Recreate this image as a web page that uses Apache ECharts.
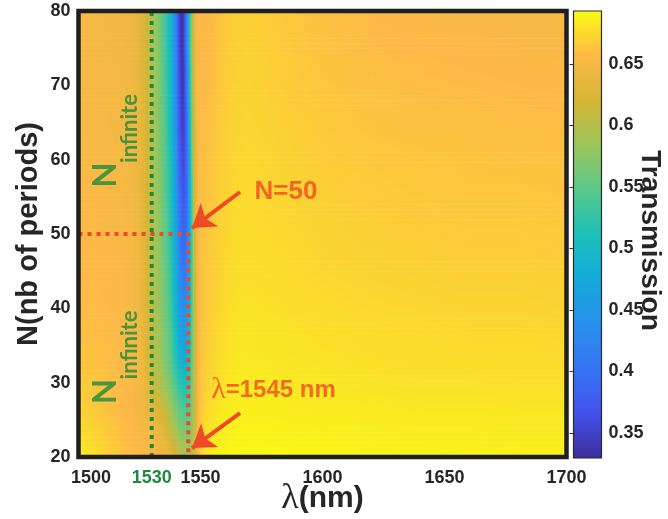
<!DOCTYPE html>
<html><head><meta charset="utf-8">
<script src="https://cdn.jsdelivr.net/npm/echarts@6/dist/echarts.min.js"></script>
<style>html,body{margin:0;padding:0;background:#fff}#c{width:668px;height:519px}</style>
</head><body><div id="c"></div>
<script>
// node positions: wavelength (nm) and number of periods (top to bottom)
const wavelengthNm = [1500,1506,1512,1518,1522,1525,1527,1529,1531,1533,1535,1536,1537,1538,1539,1540,1541,1542,1543,1544,1545,1546,1547,1548,1549,1550,1552,1555,1558,1562,1568,1575,1585,1600,1620,1640,1660,1680,1700];
const periodsN = [80,76,72,68,64,60,56,52,48,44,40,36,33,30,28,26,24,22,20];

// transmission read row by row
const tN80 = [.649,.649,.648,.647,.643,.635,.624,.607,.587,.565,.540,.525,.505,.480,.450,.410,.360,.333,.345,.400,.480,.560,.620,.648,.655,.655,.655,.658,.663,.667,.669,.668,.665,.661,.657,.655,.654,.653,.652];
const tN76 = [.649,.649,.648,.647,.643,.635,.624,.607,.587,.565,.541,.526,.506,.481,.451,.412,.362,.335,.347,.402,.482,.562,.622,.649,.656,.656,.656,.659,.664,.668,.670,.669,.666,.662,.658,.656,.655,.654,.653];
const tN72 = [.650,.650,.649,.648,.644,.636,.625,.608,.588,.566,.543,.528,.509,.485,.456,.418,.368,.340,.342,.390,.470,.550,.615,.647,.656,.657,.657,.660,.665,.669,.671,.670,.667,.663,.660,.658,.657,.656,.655];
const tN68 = [.651,.651,.650,.649,.645,.637,.626,.609,.589,.567,.545,.530,.512,.489,.461,.424,.375,.346,.345,.385,.460,.545,.610,.645,.656,.658,.658,.661,.666,.670,.672,.671,.668,.665,.662,.660,.659,.658,.657];
const tN64 = [.652,.652,.651,.650,.646,.638,.627,.610,.590,.568,.547,.533,.515,.493,.466,.430,.384,.354,.350,.380,.450,.535,.605,.643,.656,.659,.659,.662,.667,.671,.673,.672,.670,.666,.663,.662,.661,.660,.659];
const tN60 = [.653,.653,.652,.651,.647,.639,.628,.611,.591,.570,.550,.537,.520,.498,.472,.438,.395,.364,.357,.378,.440,.525,.600,.640,.656,.660,.661,.664,.668,.672,.674,.673,.671,.668,.665,.664,.663,.662,.661];
const tN56 = [.654,.654,.653,.652,.648,.640,.629,.612,.592,.572,.553,.540,.524,.503,.478,.446,.406,.376,.367,.380,.435,.515,.595,.637,.655,.660,.662,.665,.669,.673,.675,.674,.672,.669,.667,.665,.664,.664,.663];
const tN52 = [.655,.655,.654,.653,.649,.641,.630,.613,.593,.573,.555,.543,.528,.508,.485,.455,.418,.390,.380,.388,.435,.510,.590,.635,.654,.660,.663,.666,.670,.674,.676,.675,.673,.671,.668,.667,.666,.666,.665];
const tN48 = [.656,.656,.655,.654,.650,.642,.631,.614,.594,.575,.558,.546,.532,.513,.492,.464,.430,.404,.395,.400,.440,.510,.585,.632,.653,.660,.664,.667,.671,.675,.677,.676,.675,.672,.670,.669,.668,.668,.667];
const tN44 = [.657,.657,.656,.655,.651,.643,.632,.615,.596,.577,.561,.550,.537,.520,.500,.475,.445,.422,.415,.418,.450,.515,.585,.630,.652,.660,.665,.668,.672,.676,.678,.677,.676,.674,.672,.671,.670,.670,.669];
const tN40 = [.658,.658,.657,.655,.651,.643,.632,.616,.598,.580,.565,.555,.543,.527,.509,.487,.462,.443,.437,.440,.465,.520,.585,.628,.651,.660,.666,.670,.674,.678,.680,.679,.678,.676,.674,.673,.672,.672,.671];
const tN36 = [.661,.660,.658,.656,.652,.645,.634,.618,.600,.583,.569,.560,.549,.535,.519,.500,.479,.466,.461,.462,.480,.525,.585,.627,.650,.660,.667,.672,.676,.680,.682,.681,.680,.678,.677,.676,.675,.675,.674];
const tN33 = [.664,.662,.660,.657,.653,.646,.635,.620,.603,.586,.573,.565,.555,.543,.529,.513,.497,.487,.483,.484,.497,.533,.588,.627,.650,.661,.668,.673,.677,.681,.683,.682,.681,.680,.678,.677,.677,.676,.676];
const tN30 = [.667,.664,.661,.657,.653,.647,.639,.627,.613,.598,.584,.576,.567,.556,.545,.534,.524,.516,.511,.510,.518,.548,.593,.628,.651,.663,.670,.675,.679,.683,.685,.685,.683,.682,.680,.679,.679,.678,.678];
const tN28 = [.668,.664,.660,.656,.651,.646,.640,.632,.622,.610,.597,.590,.581,.571,.560,.550,.541,.533,.528,.527,.532,.555,.594,.629,.652,.664,.672,.677,.681,.684,.686,.686,.685,.683,.682,.681,.681,.680,.680];
const tN26 = [.671,.667,.662,.657,.652,.648,.645,.640,.634,.625,.613,.606,.597,.587,.577,.567,.558,.551,.546,.543,.545,.560,.595,.630,.653,.666,.674,.679,.683,.686,.687,.687,.686,.685,.684,.683,.683,.682,.682];
const tN24 = [.675,.671,.665,.659,.655,.652,.650,.647,.643,.636,.626,.619,.610,.600,.590,.580,.572,.566,.562,.560,.562,.572,.598,.630,.655,.668,.676,.681,.685,.688,.689,.689,.688,.687,.686,.685,.685,.684,.684];
const tN22 = [.680,.675,.668,.661,.656,.653,.652,.650,.647,.643,.637,.632,.626,.618,.610,.602,.594,.588,.583,.579,.578,.583,.602,.632,.656,.670,.678,.683,.687,.689,.690,.690,.689,.688,.688,.687,.687,.686,.686];
const tN20 = [.685,.679,.671,.663,.658,.655,.654,.652,.650,.648,.645,.642,.638,.633,.627,.620,.613,.607,.602,.598,.596,.598,.610,.635,.658,.672,.681,.686,.689,.692,.693,.693,.692,.691,.690,.690,.689,.689,.688];
const transmissionRows = [tN80,tN76,tN72,tN68,tN64,tN60,tN56,tN52,tN48,tN44,tN40,tN36,tN33,tN30,tN28,tN26,tN24,tN22,tN20];

const xTickLabels = [1500,1530,1550,1600,1650,1700];
const yTickLabels = [20,30,40,50,60,70,80];
const colorbarTicks = [0.35,0.4,0.45,0.5,0.55,0.6,0.65];
const transmissionRange = [0.3297,0.6931];
const lambdaRange = [1500,1700];
const periodRange = [20,80];
const lambdaInfinite = 1530;
const lambdaMarked = 1545;
const nMarked = 50;

const parula = ['#3b2d9c','#4352ea','#3474f6','#2890ea','#14aadc','#1cc0b8','#58c98a','#9dc55a','#d6b534','#fdb947','#f9fa14'];

function colorOf(v){
  let t = (v - transmissionRange[0]) / (transmissionRange[1] - transmissionRange[0]);
  t = Math.max(0, Math.min(1, t));
  return echarts.color.lerp(t, parula);
}

// one patch between four neighbouring table nodes
const patches = [];
for(let r=0;r<periodsN.length-1;r++) for(let c=0;c<wavelengthNm.length-1;c++)
  patches.push([wavelengthNm[c], wavelengthNm[c+1], periodsN[r+1], periodsN[r],
    transmissionRows[r][c], transmissionRows[r][c+1], transmissionRows[r+1][c], transmissionRows[r+1][c+1]]);

const INK = '#262626', GREEN = '#1f8a3c', RED = '#ef4a26';
const SANS = 'Liberation Sans';

const chart = echarts.init(document.getElementById('c'), null, {renderer:'canvas'});
chart.setOption({
  backgroundColor:'#fff',
  animation:false,
  grid:[
    {left:78.5, top:11, width:488, height:446, show:true, borderColor:'#1f1f1f', borderWidth:4.5, z:10,
     backgroundColor:'transparent', containLabel:false, outerBoundsMode:'none'},
    {left:573.5, top:11, width:28, height:447, show:true, borderColor:'#2a2a2a', borderWidth:1.2, z:10,
     backgroundColor:'transparent', containLabel:false, outerBoundsMode:'none'}
  ],
  xAxis:[
    {type:'value', gridIndex:0, min:lambdaRange[0], max:lambdaRange[1],
     axisLine:{show:false}, axisTick:{show:false}, splitLine:{show:false},
     axisLabel:{customValues:xTickLabels, margin:12, fontFamily:SANS, fontWeight:'bold', fontSize:18, color:INK,
       formatter:v=> v===lambdaInfinite ? '{g|'+v+'}' : (v===lambdaRange[0] ? '{s|'+v+'}' : '{d|'+v+'}'),
       rich:{g:{color:GREEN,fontFamily:SANS,fontWeight:'bold',fontSize:18},
             s:{color:INK,fontFamily:SANS,fontWeight:'bold',fontSize:18,padding:[0,0,0,25]},
             d:{color:INK,fontFamily:SANS,fontWeight:'bold',fontSize:18}}},
     name:'{l|λ}{t|(nm)}', nameLocation:'middle', nameGap:24, nameMoveOverlap:false,
     nameTextStyle:{rich:{l:{fontFamily:'Liberation Serif',fontSize:36,color:INK},
                          t:{fontFamily:SANS,fontWeight:'bold',fontSize:30,color:INK}}}},
    {type:'value', gridIndex:1, show:false, min:0, max:1}
  ],
  yAxis:[
    {type:'value', gridIndex:0, min:periodRange[0], max:periodRange[1], interval:10,
     axisLine:{show:false}, axisTick:{show:false}, splitLine:{show:false},
     axisLabel:{margin:8, fontFamily:SANS, fontWeight:'bold', fontSize:18, color:INK},
     name:'N(nb of periods)', nameLocation:'middle', nameGap:35, nameMoveOverlap:false,
     nameTextStyle:{fontFamily:SANS, fontWeight:'bold', fontSize:29, color:INK}},
    {type:'value', gridIndex:1, position:'right', min:transmissionRange[0], max:transmissionRange[1],
     axisLine:{show:false}, splitLine:{show:false},
     axisTick:{show:true, inside:true, length:4, customValues:colorbarTicks, lineStyle:{color:'#333',width:1}},
     axisLabel:{customValues:colorbarTicks, margin:7, fontFamily:SANS, fontWeight:'bold', fontSize:18, color:INK},
     name:'Transmission', nameLocation:'middle', nameRotate:-90, nameGap:34, nameMoveOverlap:false,
     nameTextStyle:{fontFamily:SANS, fontWeight:'bold', fontSize:28, color:INK, padding:[0,0,0,12]}}
  ],
  series:[
    {type:'custom', xAxisIndex:0, yAxisIndex:0, data:patches, encode:{x:[0,1], y:[2,3]}, silent:true,
     renderItem:function(params, api){
       const xl=api.value(0), xr=api.value(1), yb=api.value(2), yt=api.value(3);
       const tl=api.value(4), tr=api.value(5), bl=api.value(6), br=api.value(7);
       const a = api.coord([xl, yt]);
       const b = api.coord([xr, yb]);
       const w = b[0]-a[0], h = b[1]-a[1];
       const n = Math.max(1, Math.ceil(h/2.5));
       const children = [];
       for(let k=0;k<n;k++){
         const f = (k+0.5)/n;
         const vl = tl + (bl-tl)*f, vr = tr + (br-tr)*f;
         const stops = [0,0.25,0.5,0.75,1].map(s=>({offset:s, color:colorOf(vl+(vr-vl)*s)}));
         children.push({type:'rect', shape:{x:a[0], y:a[1]+h*k/n, width:w+0.6, height:h/n+0.6},
           style:{fill:new echarts.graphic.LinearGradient(0,0,1,0,stops)}});
       }
       return {type:'group', children};
     }},
    {type:'custom', xAxisIndex:1, yAxisIndex:1, silent:true, data:[[0,1,transmissionRange[0],transmissionRange[1]]],
     encode:{x:[0,1], y:[2,3]},
     renderItem:function(params, api){
       const a = api.coord([api.value(0), api.value(3)]);
       const b = api.coord([api.value(1), api.value(2)]);
       const stops = parula.map((c,i)=>({offset:i/(parula.length-1), color:c}));
       return {type:'rect', shape:{x:a[0], y:a[1], width:b[0]-a[0], height:b[1]-a[1]},
         style:{fill:new echarts.graphic.LinearGradient(0,1,0,0,stops)}};
     }},
    {type:'line', z:5, silent:true, symbol:'none', data:[[lambdaInfinite,periodRange[0]],[lambdaInfinite,periodRange[1]]],
     lineStyle:{color:GREEN, width:4, type:[4,5], cap:'butt'}},
    {type:'line', z:5, silent:true, symbol:'none', data:[[lambdaRange[0],nMarked],[lambdaMarked,nMarked],[lambdaMarked,periodRange[0]]],
     lineStyle:{color:RED, width:4, type:[4,5], cap:'butt'}},
    {type:'scatter', z:6, silent:true, symbolSize:0,
     data:[
       {value:[1585,55.65], label:{show:true, position:'inside', formatter:'N=50', fontFamily:SANS, fontWeight:'bold', fontSize:26, color:RED}},
       {value:[1579.9,29.0], label:{show:true, position:'inside', formatter:'{l|λ}{t|=1545 nm}',
         rich:{l:{fontFamily:'Liberation Serif', fontSize:30, color:RED}, t:{fontFamily:SANS, fontWeight:'bold', fontSize:24, color:RED}}}},
       {value:[1510.9,57.94], label:{show:true, position:'inside', rotate:90, formatter:'N', fontFamily:'Lato', fontWeight:'bold', fontSize:33, color:GREEN}},
       {value:[1520.9,64.19], label:{show:true, position:'inside', rotate:90, formatter:'infinite', fontFamily:'Lato', fontWeight:'bold', fontSize:22, color:GREEN}},
       {value:[1510.9,28.81], label:{show:true, position:'inside', rotate:90, formatter:'N', fontFamily:'Lato', fontWeight:'bold', fontSize:33, color:GREEN}},
       {value:[1520.9,35.07], label:{show:true, position:'inside', rotate:90, formatter:'infinite', fontFamily:'Lato', fontWeight:'bold', fontSize:22, color:GREEN}}
     ],
     markLine:{silent:true, symbol:['none','arrow'], symbolSize:22, label:{show:false},
       lineStyle:{color:RED, width:4, type:'solid'}, emphasis:{disabled:true},
       data:[
         [{coord:[1566.2,55.65]},{coord:[1546.5,50.8]}],
         [{coord:[1566.2,25.9]},{coord:[1546.5,21.2]}]
       ]}}
  ]
});
</script></body></html>
